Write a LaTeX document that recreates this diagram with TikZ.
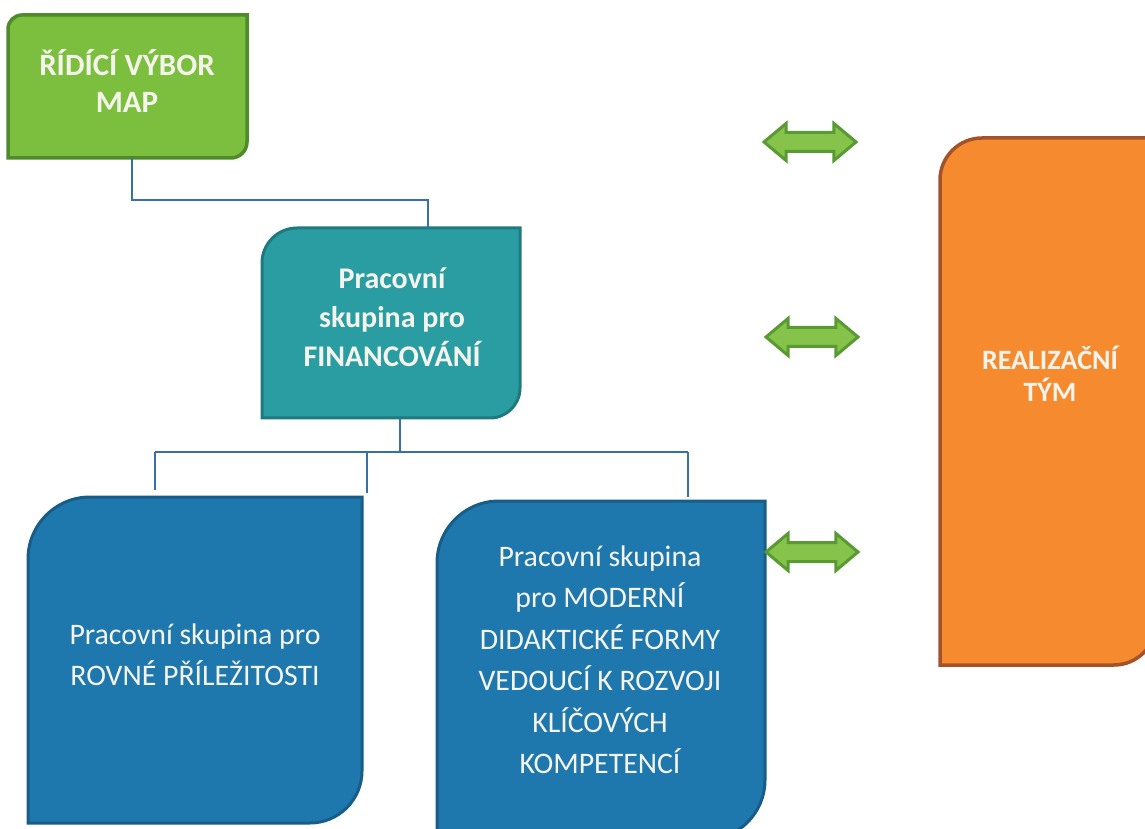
\documentclass[tikz,border=0pt]{standalone}
\usepackage{fontspec}
\setmainfont{Carlito}
\usetikzlibrary{shapes.arrows,backgrounds}
\definecolor{gfill}{HTML}{7CBF3E}
\definecolor{gline}{HTML}{4F8A2B}
\definecolor{tfill}{HTML}{2A9DA3}
\definecolor{tline}{HTML}{1F7A80}
\definecolor{bfill}{HTML}{1F78AD}
\definecolor{bline}{HTML}{175D88}
\definecolor{ofill}{HTML}{F68A2F}
\definecolor{oline}{HTML}{A2532A}
\definecolor{cline}{HTML}{3670A6}
\definecolor{afill}{HTML}{86C34A}
\definecolor{aline}{HTML}{5A9A33}
\definecolor{txt}{HTML}{F4F4EC}
% left, right, bottom, top, r top-left, r bottom-right, style
\newcommand\cornerbox[7]{%
  \path[#7] (#1,#3) -- (#1,#4-#5) arc[start angle=180,end angle=90,radius=#5]
    -- (#2,#4) -- (#2,#3+#6) arc[start angle=0,end angle=-90,radius=#6] -- cycle;}
\tikzset{
  lbl/.style={text=txt, align=center, inner sep=0pt},
  boldlbl/.style={lbl, font=\bfseries\fontsize{30}{39}\selectfont},
  plainlbl/.style={lbl, font=\fontsize{29.8}{41.5}\selectfont},
  conn/.style={draw=cline, line width=1.6pt},
  dbl/.style={double arrow, draw=aline, fill=afill, line width=3pt,
    minimum height=92pt, inner sep=8pt, double arrow head extend=9pt,
    double arrow tip angle=80},
}
\begin{document}
\begin{tikzpicture}[x=1pt,y=1pt]
\useasboundingbox (0,0) rectangle (1145,828);
\clip (0,0) rectangle (1145,828);

\node[boldlbl, font=\bfseries\fontsize{31}{37}\selectfont] (g) at (127,747) {ŘÍDÍCÍ VÝBOR\\MAP};
\node[boldlbl] (t) at (392,511) {Pracovní\\skupina pro\\FINANCOVÁNÍ};
\node[plainlbl] (b1) at (195,173) {Pracovní skupina pro\\ROVNÉ PŘÍLEŽITOSTI};
\node[plainlbl] (b2) at (600,168) {Pracovní skupina\\pro MODERNÍ\\DIDAKTICKÉ FORMY\\VEDOUCÍ K ROZVOJI\\KLÍČOVÝCH\\KOMPETENCÍ};
\node[boldlbl, font=\bfseries\fontsize{28}{32}\selectfont] (o) at (1050,454) {REALIZAČNÍ\\TÝM};

\begin{scope}[on background layer]
\fill[white] (0,0) rectangle (1145,828);
\cornerbox{8}{247}{670}{813}{14}{16}{draw=gline, fill=gfill, line width=3.5pt}
\cornerbox{262}{520}{410}{600}{35}{30}{draw=tline, fill=tfill, line width=3pt}
\cornerbox{28}{362}{5}{331}{62}{52}{draw=bline, fill=bfill, line width=3pt}
\cornerbox{437}{765}{-12}{327}{62}{60}{draw=bline, fill=bfill, line width=3pt}
\cornerbox{940}{1156}{163}{690}{42}{42}{draw=oline, fill=ofill, line width=3.5pt}
\end{scope}

\coordinate (gB) at (132,670);
\coordinate (g1) at (132,628);
\coordinate (t1) at (428,628);
\coordinate (tT) at (428,600);
\coordinate (tB) at (400,410);
\coordinate (hub) at (400,376);
\coordinate (hl) at (155,376);
\coordinate (hm) at (367,376);
\coordinate (hr) at (688,376);
\coordinate (b1T) at (155,338);
\coordinate (bmT) at (367,335);
\coordinate (b2T) at (688,331);

\draw[conn] (gB) -- (g1) -- (t1) -- (tT);
\draw[conn] (tB) -- (hub);
\draw[conn] (hl) -- (hr);
\draw[conn] (hl) -- (b1T);
\draw[conn] (hm) -- (bmT);
\draw[conn] (hr) -- (b2T);

\node[dbl] (a1) at (810,686) {};
\node[dbl] (a2) at (812,491) {};
\node[dbl] (a3) at (812,276) {};
\end{tikzpicture}
\end{document}
